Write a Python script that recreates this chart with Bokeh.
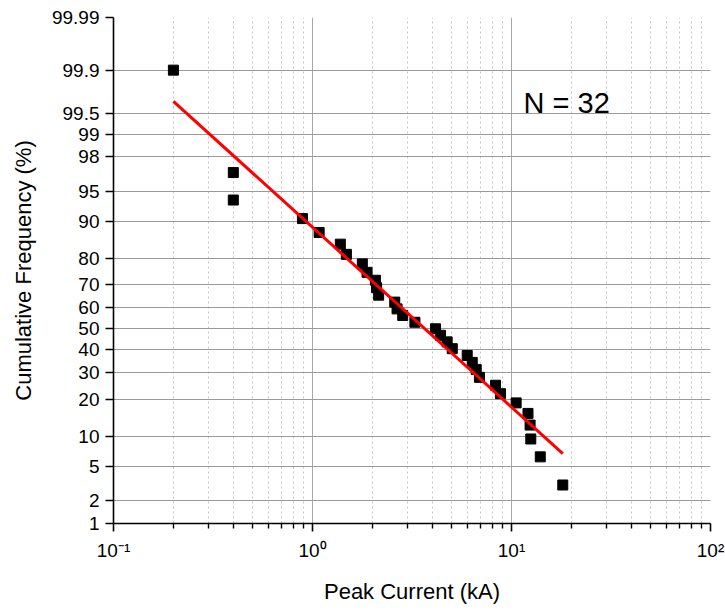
from statistics import NormalDist

from bokeh.plotting import figure
from bokeh.models import Range1d, FixedTicker, Label, ColumnDataSource
from bokeh.embed import file_html
from bokeh.resources import INLINE

# ---- data ----
peak_current = [0.2, 0.4, 0.4, 0.89, 1.08, 1.38, 1.48, 1.78, 1.88, 2.07, 2.1, 2.15,
                2.59, 2.66, 2.84, 3.27, 4.15, 4.4, 4.75, 5.04, 5.99, 6.35, 6.65, 6.9,
                8.31, 8.81, 10.55, 12.1, 12.4, 12.5, 13.95, 18.1]
cum_freq = [99.9, 96.9, 93.8, 90.6, 87.5, 84.4, 81.3, 78.1, 75.0, 71.9, 68.8, 65.6,
            62.5, 59.4, 56.3, 53.1, 50.0, 46.9, 43.8, 40.6, 37.5, 34.4, 31.3, 28.1,
            25.0, 21.9, 18.8, 15.6, 12.5, 9.4, 6.3, 3.1]
fit_current = [0.2, 18.1]
fit_freq = [99.67, 6.8]

y_tick_values = [1, 2, 5, 10, 20, 30, 40, 50, 60, 70, 80, 90, 95, 98, 99, 99.5, 99.9, 99.99]
y_tick_labels = ["1", "2", "5", "10", "20", "30", "40", "50", "60", "70", "80", "90",
                 "95", "98", "99", "99.5", "99.9", "99.99"]
x_tick_values = [0.1, 1, 10, 100]
x_tick_labels = ["10\u207b\u00b9", "10\u2070", "10\u00b9", "10\u00b2"]
annotation_text = "N = 32"

FONT = "Liberation Sans"
nd = NormalDist()


def probit(pct):
    return nd.inv_cdf(pct / 100.0)


y_ticks_z = [probit(v) for v in y_tick_values]
x_minor = [m * 10.0 ** e for e in (-1, 0, 1) for m in range(2, 10)]

src = ColumnDataSource(dict(x=peak_current, y=[probit(v) for v in cum_freq]))
fit_src = ColumnDataSource(dict(x=fit_current, y=[probit(v) for v in fit_freq]))

p = figure(width=725, height=612, x_axis_type="log",
           x_range=Range1d(x_tick_values[0], x_tick_values[-1]),
           y_range=Range1d(y_ticks_z[0], y_ticks_z[-1]),
           output_backend="svg", toolbar_location=None,
           min_border_left=113, min_border_right=15,
           min_border_top=17, min_border_bottom=89)
p.outline_line_color = None
p.background_fill_color = "white"
p.border_fill_color = "white"

# axes
p.xaxis.ticker = FixedTicker(ticks=x_tick_values, minor_ticks=x_minor)
p.xaxis.major_label_overrides = dict(zip(x_tick_values, x_tick_labels))
p.yaxis.ticker = FixedTicker(ticks=y_ticks_z)
p.yaxis.major_label_overrides = dict(zip(y_ticks_z, y_tick_labels))

for ax in (p.xaxis[0], p.yaxis[0]):
    ax.axis_line_color = "black"
    ax.axis_line_width = 1.6
    ax.major_tick_line_color = "black"
    ax.major_tick_line_width = 1.6
    ax.major_tick_in = 0
    ax.major_tick_out = 8
    ax.major_label_text_font = FONT
    ax.major_label_text_font_size = "19px"
    ax.major_label_text_color = "black"
    ax.axis_label_text_font = FONT
    ax.axis_label_text_font_size = "22px"
    ax.axis_label_text_font_style = "normal"
    ax.axis_label_text_color = "black"

p.xaxis.minor_tick_line_color = "black"
p.xaxis.minor_tick_line_width = 1.4
p.xaxis.minor_tick_in = 0
p.xaxis.minor_tick_out = 5
p.yaxis.minor_tick_line_color = None
p.xaxis.major_label_standoff = 8
p.yaxis.major_label_standoff = 6
p.xaxis.axis_label = "Peak Current (kA)"
p.yaxis.axis_label = "Cumulative Frequency (%)"
p.xaxis.axis_label_standoff = 15
p.yaxis.axis_label_standoff = 13

# grids
p.xgrid.ticker = FixedTicker(ticks=[t for t in x_tick_values if x_tick_values[0] < t < x_tick_values[-1]],
                             minor_ticks=x_minor)
p.xgrid.grid_line_color = "#a8a8a8"
p.xgrid.grid_line_width = 1
p.xgrid.minor_grid_line_color = "#c4c4c4"
p.xgrid.minor_grid_line_dash = "2 3"
p.ygrid.ticker = FixedTicker(ticks=y_ticks_z[1:-1])
p.ygrid.grid_line_color = "#9a9a9a"
p.ygrid.grid_line_width = 1

# data
p.scatter("x", "y", source=src, marker="square", size=10,
          fill_color="black", line_color="black")
p.line("x", "y", source=fit_src, line_color="#ff0000", line_width=3)

p.add_layout(Label(x=11.5, y=2.694, text=annotation_text, text_font=FONT,
                   text_font_size="29px", text_color="black",
                   text_baseline="alphabetic"))

open("out.html", "w").write(file_html(p, INLINE))
